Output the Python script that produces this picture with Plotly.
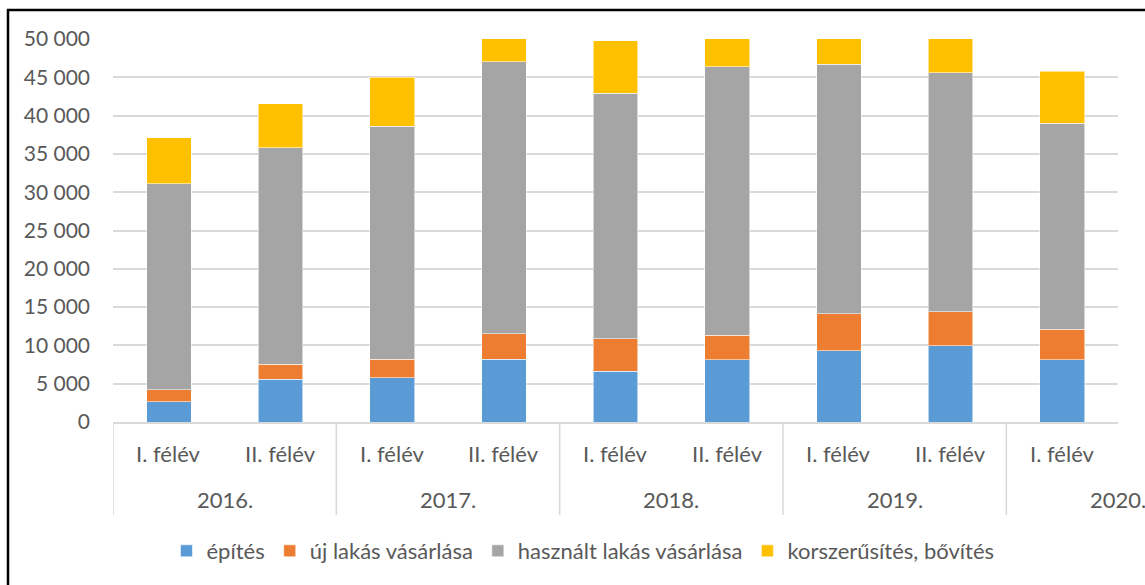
import plotly.graph_objects as go

years = ["2016.", "2017.", "2018.", "2019.", "2020."]
halves = ["I. félév", "II. félév", "I. félév", "II. félév", "I. félév", "II. félév",
          "I. félév", "II. félév", "I. félév"]
year_pos = [0.5, 2.5, 4.5, 6.5, 8.5]

series_names = ["építés", "új lakás vásárlása", "használt lakás vásárlása", "korszerűsítés, bővítés"]
epites = [2650, 5570, 5800, 8200, 6600, 8100, 9270, 9970, 8150]
uj_lakas = [1530, 1960, 2420, 3300, 4300, 3200, 4830, 4430, 3950]
hasznalt = [26920, 28270, 30380, 35500, 32000, 35100, 32600, 31200, 26900]
korszerusites = [6000, 5750, 6400, 6500, 6900, 6700, 6600, 6800, 6800]

ytick_vals = [0, 5000, 10000, 15000, 20000, 25000, 30000, 35000, 40000, 45000, 50000]
ytick_text = ["0", "5 000", "10 000", "15 000", "20 000", "25 000", "30 000",
              "35 000", "40 000", "45 000", "50 000"]

colors = ["#5B9BD5", "#ED7D31", "#A5A5A5", "#FFC000"]
data = [epites, uj_lakas, hasznalt, korszerusites]

FONT = "Lato"
TXT = "#595959"

x = list(range(len(halves)))
fig = go.Figure()
for name, vals, col in zip(series_names, data, colors):
    fig.add_trace(go.Bar(
        x=x, y=vals, name=name,
        marker=dict(color=col, line=dict(color="rgba(255,255,255,0.55)", width=1)),
    ))

W, H = 1145, 585
L, R, T, B = 113, 27, 39, 163
plot_w = W - L - R
plot_h = H - T - B

def py(px):
    # pixel y -> paper y
    return (H - B - px) / plot_h

def pxx(px):
    return (px - L) / plot_w

annotations = []
for xi, h in zip(x, halves):
    annotations.append(dict(x=xi, y=py(453), xref="x", yref="paper", text=h,
                            showarrow=False, xanchor="center", yanchor="middle",
                            font=dict(family=FONT, size=22, color=TXT)))
for xp, yr in zip(year_pos, years):
    annotations.append(dict(x=xp, y=py(499), xref="x", yref="paper", text=yr,
                            showarrow=False, xanchor="center", yanchor="middle",
                            font=dict(family=FONT, size=22, color=TXT)))

shapes = []
for d in [-0.5, 1.5, 3.5, 5.5, 7.5]:
    shapes.append(dict(type="line", xref="x", yref="paper", x0=d, x1=d,
                       y0=0, y1=py(515), line=dict(color="#D9D9D9", width=1.5)))
# outer chart frame
shapes.append(dict(type="rect", xref="paper", yref="paper",
                   x0=pxx(8), x1=pxx(1200), y0=py(640), y1=py(10),
                   line=dict(color="black", width=2.5), fillcolor="rgba(0,0,0,0)"))

fig.update_layout(
    width=W, height=H,
    margin=dict(l=L, r=R, t=T, b=B, autoexpand=False),
    barmode="stack", bargap=0.6,
    paper_bgcolor="white", plot_bgcolor="white",
    font=dict(family=FONT, size=22, color=TXT),
    xaxis=dict(range=[-0.5, 8.5], showticklabels=False, showgrid=False,
               zeroline=False, showline=True, linecolor="#D9D9D9", linewidth=1.5,
               fixedrange=True),
    yaxis=dict(range=[0, 50000], tickvals=ytick_vals, ticktext=ytick_text,
               showgrid=True, gridcolor="#D9D9D9", gridwidth=1.5,
               zeroline=False, showline=False, ticklabelstandoff=22,
               tickfont=dict(family=FONT, size=21, color=TXT)),
    legend=dict(orientation="h", x=pxx(583), xanchor="center", y=py(551),
                yanchor="middle", font=dict(family=FONT, size=22, color=TXT),
                traceorder="normal", itemwidth=30),
    annotations=annotations,
    shapes=shapes,
)

fig.write_html("out.html",
               config={"displayModeBar": False},
               post_script="document.body.style.margin='0';document.body.style.padding='0';document.body.style.overflow='hidden';")
